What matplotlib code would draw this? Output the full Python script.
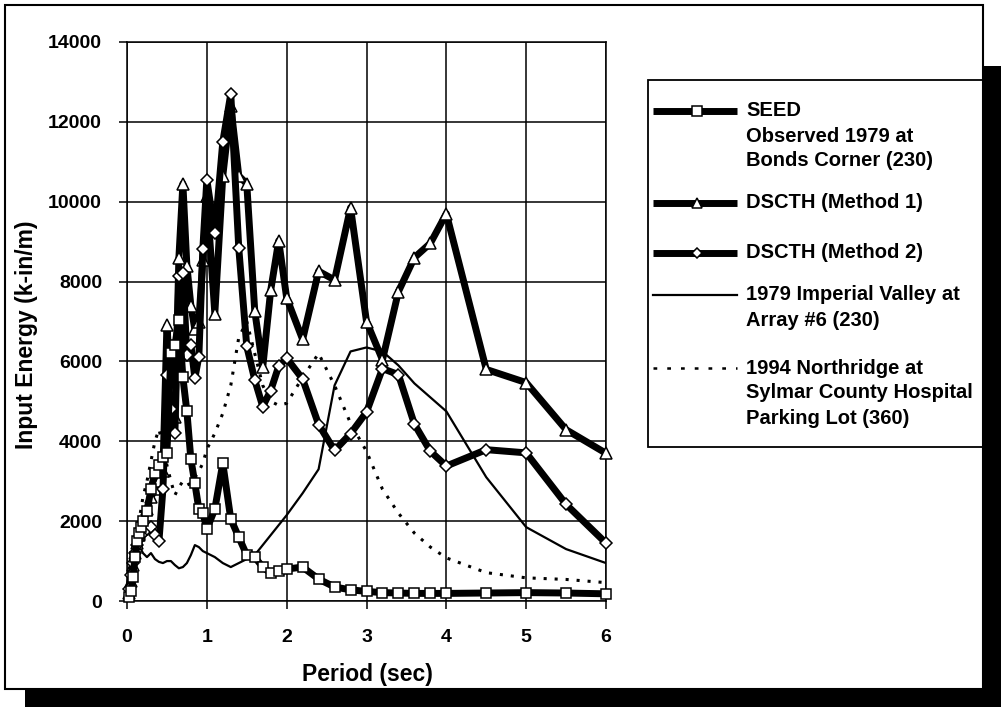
import matplotlib
matplotlib.use("Agg")
import matplotlib.pyplot as plt
from matplotlib.patches import Rectangle

plt.rcParams["font.family"] = ["Liberation Sans", "DejaVu Sans"]
plt.rcParams["font.weight"] = "bold"

# periods (sec) shared by all curves
periods = [0.02, 0.05, 0.075, 0.1, 0.125, 0.15, 0.175, 0.2, 0.25, 0.3, 0.35, 0.4, 0.45,
           0.5, 0.55, 0.6, 0.65, 0.7, 0.75, 0.8, 0.85, 0.9, 0.95, 1.0,
           1.1, 1.2, 1.3, 1.4, 1.5, 1.6, 1.7, 1.8, 1.9, 2.0,
           2.2, 2.4, 2.6, 2.8, 3.0, 3.2, 3.4, 3.6, 3.8, 4.0,
           4.5, 5.0, 5.5, 6.0]

# input energy (k-in/m)
seed = [100, 250, 600, 1100, 1500, 1700, 1850, 2000, 2250, 2800, 3200, 3400, 3600,
        3700, 6200, 6400, 7050, 5600, 4750, 3550, 2950, 2300, 2200, 1800,
        2300, 3450, 2050, 1600, 1150, 1100, 850, 700, 750, 800,
        850, 550, 350, 280, 240, 210, 200, 190, 190, 190,
        200, 210, 200, 180]

dscth_m1 = [200, 500, 900, 1200, 1450, 1650, 1850, 2000, 2300, 2600, 2800, 3000, 3250,
            6900, 5350, 4600, 8600, 10450, 8400, 7400, 6800, 7000, 8550, 10150,
            7200, 10650, 12400, 10650, 10450, 7270, 5850, 7780, 9020, 7590,
            6550, 8260, 8040, 9850, 7000, 6040, 7750, 8600, 8960, 9700,
            5800, 5470, 4290, 3700]

dscth_m2 = [300, 650, 950, 1200, 1400, 1550, 1650, 1700, 1800, 1850, 1650, 1500, 2800,
            5650, 4820, 4200, 8130, 8220, 6150, 6420, 5580, 6120, 8820, 10550,
            9210, 11500, 12700, 8840, 6380, 5540, 4870, 5270, 5880, 6080,
            5560, 4420, 3770, 4190, 4730, 5820, 5670, 4430, 3750, 3380,
            3790, 3710, 2420, 1450]

imperial = [200, 600, 900, 1100, 1250, 1350, 1300, 1200, 1100, 1200, 1050, 980, 950,
            1000, 1000, 900, 820, 850, 950, 1150, 1400, 1350, 1250, 1200,
            1100, 950, 850, 950, 1050, 1150, 1400, 1650, 1900, 2150,
            2700, 3300, 5400, 6250, 6350, 6250, 5900, 5450, 5100, 4750,
            3100, 1850, 1300, 950]

northridge = [300, 700, 1000, 1400, 1700, 2000, 2300, 2600, 3000, 3500, 4000, 4300, 3900,
              3400, 3000, 2650, 2850, 3000, 2900, 2950, 3100, 3250, 3450, 3800,
              4200, 4700, 5400, 6600, 7000, 6200, 5400, 5000, 4900, 4950,
              5600, 6200, 5400, 4450, 3750, 2800, 2200, 1700, 1350, 1080,
              710, 580, 540, 460]

W, H = 1001, 707
fig = plt.figure(figsize=(W / 100, H / 100), dpi=100)

# background: framed panel with drop shadow, legend drawn by hand (pixel coords)
bg = fig.add_axes([0, 0, 1, 1], zorder=0)
bg.set_xlim(0, W)
bg.set_ylim(H, 0)
bg.set_axis_off()
bg.add_patch(Rectangle((983, 66), 18, 641, facecolor="black", edgecolor="none"))
bg.add_patch(Rectangle((25, 689), 976, 18, facecolor="black", edgecolor="none"))
bg.add_patch(Rectangle((5, 5), 978, 684, facecolor="white", edgecolor="black", lw=1.5))
bg.add_patch(Rectangle((648, 80), 335, 367, facecolor="none", edgecolor="black", lw=1.3))

thick = dict(color="black", lw=5, solid_capstyle="butt")
mk = dict(markerfacecolor="white", markeredgecolor="black", markeredgewidth=1.1)

entries = [
    (111, dict(marker="s", markersize=7), ["SEED", "Observed 1979 at", "Bonds Corner (230)"]),
    (203, dict(marker="^", markersize=7), ["DSCTH (Method 1)"]),
    (253, dict(marker="D", markersize=5.5), ["DSCTH (Method 2)"]),
    (295, None, ["1979 Imperial Valley at", "Array #6 (230)"]),
    (368, "dot", ["1994 Northridge at", "Sylmar County Hospital", "Parking Lot (360)"]),
]
for y0, style, lines in entries:
    if style is None:
        bg.plot([653, 737], [y0, y0], color="black", lw=1.6)
    elif style == "dot":
        bg.plot([653, 737], [y0, y0], color="black", lw=1.8, linestyle=(0, (1.5, 4)))
    else:
        bg.plot([653, 737], [y0, y0], **thick)
        bg.plot([697], [y0], linestyle="none", **style, **mk)
    for i, s in enumerate(lines):
        bg.text(746, y0 + 25 * i, s, fontsize=14.5, va="center", ha="left")

# main plot
ax = fig.add_axes([127 / W, 1 - 601 / H, 479 / W, 559 / H], zorder=1)
ax.set_facecolor("white")
ax.plot(periods, northridge, color="black", lw=2.2, linestyle=(0, (1, 2.6)), zorder=2)
ax.plot(periods, imperial, color="black", lw=1.6, zorder=2)
ax.plot(periods, dscth_m1, marker="^", markersize=8, clip_on=False, zorder=3, **thick, **mk)
ax.plot(periods, dscth_m2, marker="D", markersize=6.3, clip_on=False, zorder=4, **thick, **mk)
ax.plot(periods, seed, marker="s", markersize=7.8, clip_on=False, zorder=5, **thick, **mk)

ax.set_xlim(0, 6)
ax.set_ylim(0, 14000)
ax.set_xticks(range(0, 7))
ax.set_yticks(range(0, 14001, 2000))
ax.grid(True, color="black", lw=1.1)
ax.set_axisbelow(True)
for sp in ax.spines.values():
    sp.set_linewidth(1.1)
ax.tick_params(axis="both", direction="out", length=6, width=1.1, labelsize=14)
ax.tick_params(axis="y", pad=12)
ax.tick_params(axis="x", pad=14)

fig.text(27 / W, 1 - 335 / H, "Input Energy (k-in/m)", rotation=90,
         ha="center", va="center", fontsize=16.5)
fig.text(367 / W, 1 - 674 / H, "Period (sec)", ha="center", va="center", fontsize=16.5)

fig.savefig("out.png", dpi=100)
plt.close(fig)
